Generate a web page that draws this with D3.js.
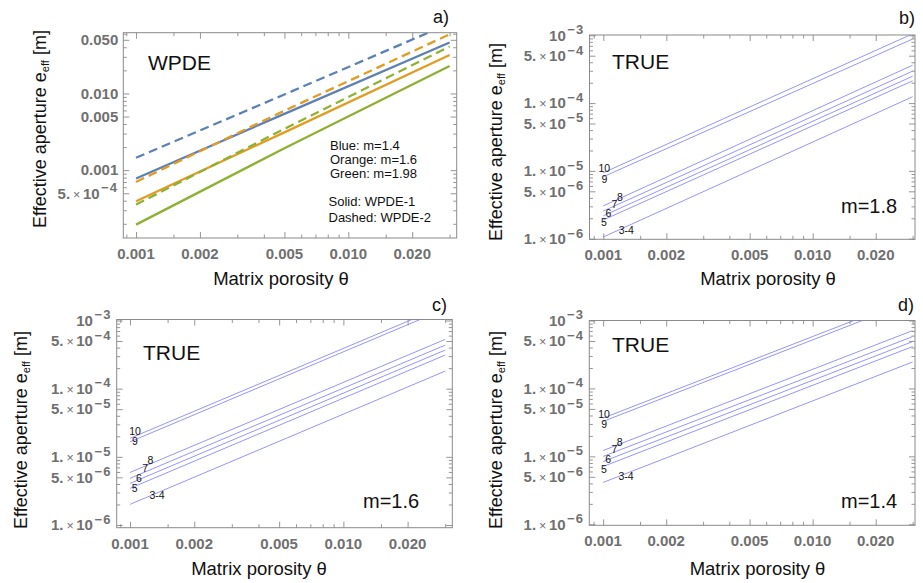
<!DOCTYPE html>
<html lang="en">
<head>
<meta charset="UTF-8">
<title>Effective aperture vs matrix porosity</title>
<script src="https://cdn.jsdelivr.net/npm/d3@7"></script>
<style>
  body { margin: 0; background: #fff; }
  svg { display: block; font-family: "Liberation Sans", Arial, Helvetica, sans-serif; }
  .tick text { display: none; }
</style>
</head>
<body>
<svg id="chart" width="923" height="583"></svg>
<script>
// ---- data ----
const thetaWPDE = [0.001, 0.005, 0.03];
const blueSolid = [7.78e-4, 5.42e-3, 0.0461];
const blueDashed = [1.45e-3, 9.7e-3, 0.0815];
const orangeSolid = [3.93e-4, 3.11e-3, 0.0317];
const orangeDashed = [7.03e-4, 5.96e-3, 0.059];
const greenSolid = [1.95e-4, 1.93e-3, 0.0228];
const greenDashed = [3.56e-4, 3.46e-3, 0.0408];

const thetaTrue = [0.001, 0.03];
const caseLabels = ["10", "9", "8", "7", "6", "5", "3-4"];
const trueM18 = [[9.4e-6, 1.05e-3], [8.2e-6, 8.8e-4], [3.05e-6, 3.62e-4], [2.56e-6, 2.96e-4], [2.18e-6, 2.49e-4], [1.89e-6, 2.13e-4], [1.06e-6, 1.24e-4]];
const trueM16 = [[1.87e-5, 1.66e-3], [1.66e-5, 1.48e-3], [5.9e-6, 5.28e-4], [4.84e-6, 4.35e-4], [4.08e-6, 3.68e-4], [3.45e-6, 3.11e-4], [2.01e-6, 1.81e-4]];
const trueM14 = [[3.66e-5, 2.17e-3], [3.27e-5, 1.94e-3], [1.22e-5, 7.1e-4], [9.98e-6, 5.8e-4], [8.4e-6, 4.89e-4], [7.1e-6, 4.13e-4], [4.13e-6, 2.45e-4]];

const xTicks = [0.001, 0.002, 0.005, 0.01, 0.02];
const xTickLabels = ["0.001", "0.002", "0.005", "0.010", "0.020"];
const xMinorTicks = [0.0009, 0.0015, 0.003, 0.004, 0.006, 0.007, 0.008, 0.009, 0.015, 0.03];
const yTicksA = [0.05, 0.01, 0.005, 0.001, 0.0005];
const yTickLabelsA = ["0.050", "0.010", "0.005", "0.001", "5.×10^−4"];
const yTicksTrue = [1e-3, 5e-4, 1e-4, 5e-5, 1e-5, 5e-6, 1e-6];
const yTickLabelsTrue = ["10^−3", "5.×10^−4", "1.×10^−4", "5.×10^−5", "1.×10^−5", "5.×10^−6", "1.×10^−6"];
const legendColours = ["Blue: m=1.4", "Orange: m=1.6", "Green: m=1.98"];
const legendStyles = ["Solid: WPDE-1", "Dashed: WPDE-2"];

// ---- layout / style ----
const BLUE = "#5e81b5", ORANGE = "#e19c24", GREEN = "#8fb032", TRUECOL = "#8888ff";
const GRAY = "#707070", FRAME = "#8a8a8a";

// offsets of the case labels from the start of each line
const labelOff = [[1, -0.5], [1, 6.5], [16.5, -5], [11.2, -3.3], [5, 1.5], [0.7, 6.2], [23, -2.5]];

const svg = d3.select("#chart");

function minorY(dom) {
  const out = [];
  for (let e = -7; e <= -1; e++)
    [2, 3, 4, 6, 7, 8, 9].forEach(k => {
      const v = k * Math.pow(10, e);
      if (v >= dom[0] && v <= dom[1]) out.push(v);
    });
  return out;
}

function drawPanel(p) {
  const w = p.x1 - p.x0, h = p.y1 - p.y0;
  const x = d3.scaleLog().domain(p.xDom).range([0, w]);
  const y = d3.scaleLog().domain(p.yDom).range([h, 0]);
  const g = svg.append("g").attr("transform", `translate(${p.x0},${p.y0})`);

  g.append("clipPath").attr("id", "clip" + p.id)
    .append("rect").attr("width", w).attr("height", h);

  // frame ticks, inward, on all four sides
  const yMin = minorY(p.yDom);
  const sides = [
    [d3.axisBottom(x), `translate(0,${h})`, p.xMaj, xMinorTicks],
    [d3.axisTop(x), null, p.xMaj, xMinorTicks],
    [d3.axisLeft(y), null, p.yMaj, yMin],
    [d3.axisRight(y), `translate(${w},0)`, p.yMaj, yMin]
  ];
  sides.forEach(([ax, tr, maj, min]) => {
    [[maj, 6], [min, 3.5]].forEach(([vals, len]) => {
      const a = g.append("g").attr("transform", tr)
        .call(ax.tickValues(vals).tickSize(-len).tickFormat(""));
      a.select(".domain").remove();
      a.selectAll("line").attr("stroke", FRAME).attr("stroke-width", 0.9);
    });
  });

  g.append("rect").attr("width", w).attr("height", h)
    .attr("fill", "none").attr("stroke", FRAME).attr("stroke-width", 1);

  // tick labels
  g.selectAll(".xl").data(p.xMaj).enter().append("text")
    .attr("x", d => x(d)).attr("y", h + 21)
    .attr("text-anchor", "middle").attr("font-size", 15).attr("font-weight", "bold")
    .attr("fill", GRAY).text((d, i) => xTickLabels[i]);

  p.yMaj.forEach((v, i) => {
    const t = g.append("text").attr("x", -5).attr("y", y(v) + 5.3)
      .attr("text-anchor", "end").attr("font-size", 15).attr("font-weight", "bold").attr("fill", GRAY);
    const s = p.yLab[i];
    if (s.indexOf("^") < 0) { t.text(s); return; }
    const [base, ex] = s.split("^");
    if (base.indexOf("×") >= 0) {
      const mant = base.split("×")[0];
      t.append("tspan").text(mant);
      t.append("tspan").attr("font-size", 12.5).attr("font-weight", "normal").attr("dx", 3).text("×");
      t.append("tspan").attr("dx", 2.5).text("10");
    } else {
      t.append("tspan").text("10");
    }
    t.append("tspan").attr("font-size", 13).attr("dy", -6.5).attr("dx", 1.5)
      .attr("letter-spacing", 1.2).text(ex);
  });

  // axis titles
  svg.append("text").attr("transform", `translate(${p.yt[0]},${p.yt[1]}) rotate(-90)`)
    .attr("text-anchor", "middle").attr("font-size", 18).attr("fill", "#111")
    .call(t => {
      t.append("tspan").text("Effective aperture e");
      t.append("tspan").attr("font-size", 11).attr("dy", 3).text("eff");
      t.append("tspan").attr("dy", -3).text(" [m]");
    });
  svg.append("text").attr("x", p.xt[0]).attr("y", p.xt[1])
    .attr("text-anchor", "middle").attr("font-size", 18.5).attr("fill", "#111")
    .text("Matrix porosity θ");
  svg.append("text").attr("x", p.letter[0]).attr("y", p.letter[1])
    .attr("text-anchor", "end").attr("font-size", 18).attr("fill", "#111").text(p.id + ")");

  return {g, x, y, w, h};
}

// ---- panel a ----
const pa = drawPanel({
  id: "a", x0: 123.3, x1: 456.7, y0: 32.7, y1: 238,
  xDom: [8.71e-4, 0.0324], yDom: [1.306e-4, 0.0619],
  xMaj: xTicks, yMaj: yTicksA, yLab: yTickLabelsA,
  yt: [46, 129], xt: [281, 285], letter: [449, 23]
});
const lineA = d3.line().x((d, i) => pa.x(thetaWPDE[i])).y(d => pa.y(d));
const seriesA = [
  [greenSolid, GREEN, null], [orangeSolid, ORANGE, null], [blueSolid, BLUE, null],
  [greenDashed, GREEN, "9,5"], [orangeDashed, ORANGE, "9,5"], [blueDashed, BLUE, "9,5"]
];
const ca = pa.g.append("g").attr("clip-path", "url(#clipa)");
seriesA.forEach(([vals, col, dash]) => {
  ca.append("path").datum(vals).attr("d", lineA)
    .attr("fill", "none").attr("stroke", col).attr("stroke-width", 2.3)
    .attr("stroke-dasharray", dash);
});
svg.append("text").attr("x", 148).attr("y", 70).attr("font-size", 21).attr("fill", "#111").text("WPDE");
legendColours.forEach((s, i) => svg.append("text").attr("x", 330).attr("y", 150 + i * 14)
  .attr("font-size", 13).attr("fill", "#111").text(s));
legendStyles.forEach((s, i) => svg.append("text").attr("x", 328.5).attr("y", 206 + i * 15.5)
  .attr("font-size", 13).attr("fill", "#111").text(s));

// ---- TRUE panels ----
function truePanel(cfg, vals, mText, mPos, namePos, shift) {
  const p = drawPanel(Object.assign(cfg, { xMaj: xTicks, yMaj: yTicksTrue, yLab: yTickLabelsTrue }));
  const line = d3.line().x((d, i) => p.x(thetaTrue[i])).y(d => p.y(d));
  const cl = p.g.append("g").attr("clip-path", `url(#clip${cfg.id})`);
  cl.selectAll("path").data(vals).enter().append("path")
    .attr("d", line).attr("fill", "none").attr("stroke", TRUECOL).attr("stroke-width", 0.9);
  p.g.selectAll(".cl").data(vals).enter().append("text")
    .attr("x", (d, i) => p.x(thetaTrue[0]) + labelOff[i][0] + shift[0])
    .attr("y", (d, i) => p.y(d[0]) + labelOff[i][1] + shift[1])
    .attr("text-anchor", "middle").attr("font-size", 10.5).attr("fill", "#111")
    .text((d, i) => caseLabels[i]);
  svg.append("text").attr("x", namePos[0]).attr("y", namePos[1]).attr("font-size", 21).attr("fill", "#111").text("TRUE");
  svg.append("text").attr("x", mPos[0]).attr("y", mPos[1]).attr("font-size", 20).attr("fill", "#111").text(mText);
}

truePanel({ id: "b", x0: 589.5, x1: 915, y0: 35, y1: 239.3, xDom: [8.59e-4, 0.0308], yDom: [0.98e-6, 1.01e-3],
  yt: [502, 142], xt: [768, 285], letter: [915, 24] }, trueM18, "m=1.8", [841, 213], [612, 69], [0, 0]);
truePanel({ id: "c", x0: 116.7, x1: 452.3, y0: 319.5, y1: 527.7, xDom: [8.66e-4, 0.0324], yDom: [0.913e-6, 1.034e-3],
  yt: [27, 430], xt: [259, 575], letter: [447, 311] }, trueM16, "m=1.6", [363, 508], [143, 360], [4, -3]);
truePanel({ id: "d", x0: 589.3, x1: 915, y0: 320.5, y1: 525.3, xDom: [8.59e-4, 0.0308], yDom: [0.967e-6, 1.0e-3],
  yt: [502, 430], xt: [757.5, 575], letter: [914, 311] }, trueM14, "m=1.4", [841, 508], [612, 351.7], [0, 0]);
</script>
</body>
</html>
